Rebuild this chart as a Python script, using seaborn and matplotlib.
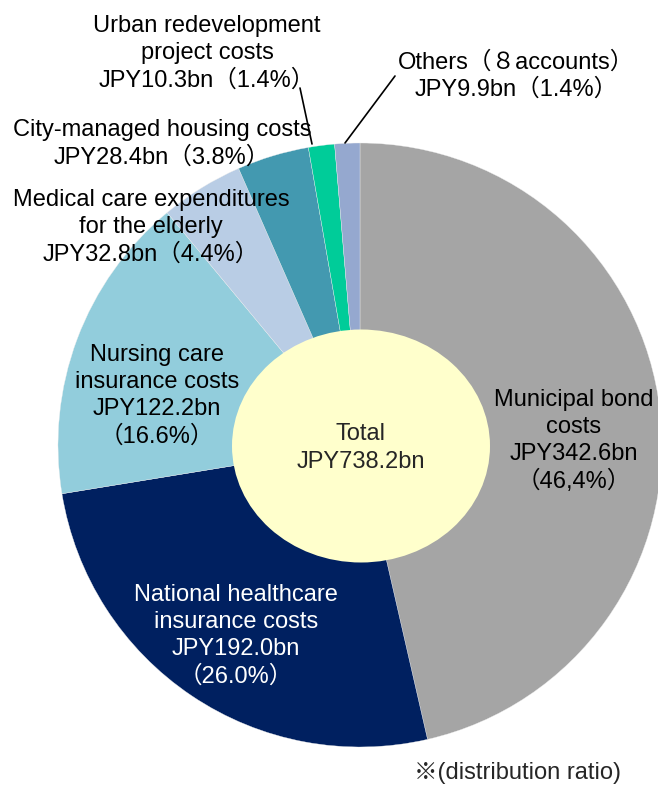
import matplotlib
matplotlib.use('Agg')
import matplotlib.pyplot as plt
from matplotlib.patches import Ellipse
import seaborn as sns

# datos del grafico (miles de millones de yenes)
categories = ['Municipal bond costs', 'National healthcare insurance costs',
              'Nursing care insurance costs', 'Medical care expenditures for the elderly',
              'City-managed housing costs', 'Urban redevelopment project costs',
              'Others (8 accounts)']
amounts = [342.6, 192.0, 122.2, 32.8, 28.4, 10.3, 9.9]
shares = ['46,4%', '26.0%', '16.6%', '4.4%', '3.8%', '1.4%', '1.4%']
total_amount = 738.2

label_texts = [
    'Municipal bond\ncosts\nJPY342.6bn\n（46,4%）',
    'National healthcare\ninsurance costs\nJPY192.0bn\n（26.0%）',
    'Nursing care\ninsurance costs\nJPY122.2bn\n（16.6%）',
    'Medical care expenditures\nfor the elderly\nJPY32.8bn（4.4%）',
    'City-managed housing costs\nJPY28.4bn（3.8%）',
    'Urban redevelopment\nproject costs\nJPY10.3bn（1.4%）',
    'Others（８accounts）\nJPY9.9bn（1.4%）',
]

colors = ['#A5A5A5', '#002060', '#92CDDC', '#B9CDE5', '#4399B0', '#00CC99', '#95A8CF']
text_colors = ['black', 'white', 'black', 'black', 'black', 'black', 'black']

# posiciones en pixeles (origen arriba a la izquierda)
label_pos = [(574, 441), (236, 636), (157, 396), (151, 227), (162, 144), (207, 53), (516, 76)]

W, H = 658, 785


def fy(y):
    return H - y


sns.set_style('white')
plt.rcParams['font.family'] = ['Liberation Sans', 'Noto Sans CJK JP', 'DejaVu Sans']

fig = plt.figure(figsize=(W / 100, H / 100), dpi=100)
ax = fig.add_axes([0, 0, 1, 1])

cx, cy, r = 360, fy(445), 302
ax.pie(amounts, colors=colors, startangle=90, counterclock=False,
       center=(cx, cy), radius=r,
       wedgeprops=dict(edgecolor='#EEEEEE', linewidth=0.25))

# circulo central
ax.add_patch(Ellipse((361, fy(446)), 258, 233, facecolor='#FFFFCC', edgecolor='none', zorder=3))
ax.text(361, fy(448), f'Total\nJPY{total_amount}bn', ha='center', va='center',
        fontsize=17, zorder=4, linespacing=1.3)

for txt, (x, y), tc in zip(label_texts, label_pos, text_colors):
    ax.text(x, fy(y), txt, ha='center', va='center', multialignment='center',
            fontsize=17, color=tc, linespacing=1.3, zorder=4)

# lineas guia
ax.plot([300, 312], [fy(88), fy(144)], color='black', lw=1.2, zorder=4)
ax.plot([395, 345], [fy(76), fy(143)], color='black', lw=1.2, zorder=4)

ax.text(517, fy(773), '※(distribution ratio)', ha='center', va='center', fontsize=17)

ax.set_xlim(0, W)
ax.set_ylim(0, H)
ax.set_aspect('auto')
ax.axis('off')

plt.savefig('out.png', dpi=100)
